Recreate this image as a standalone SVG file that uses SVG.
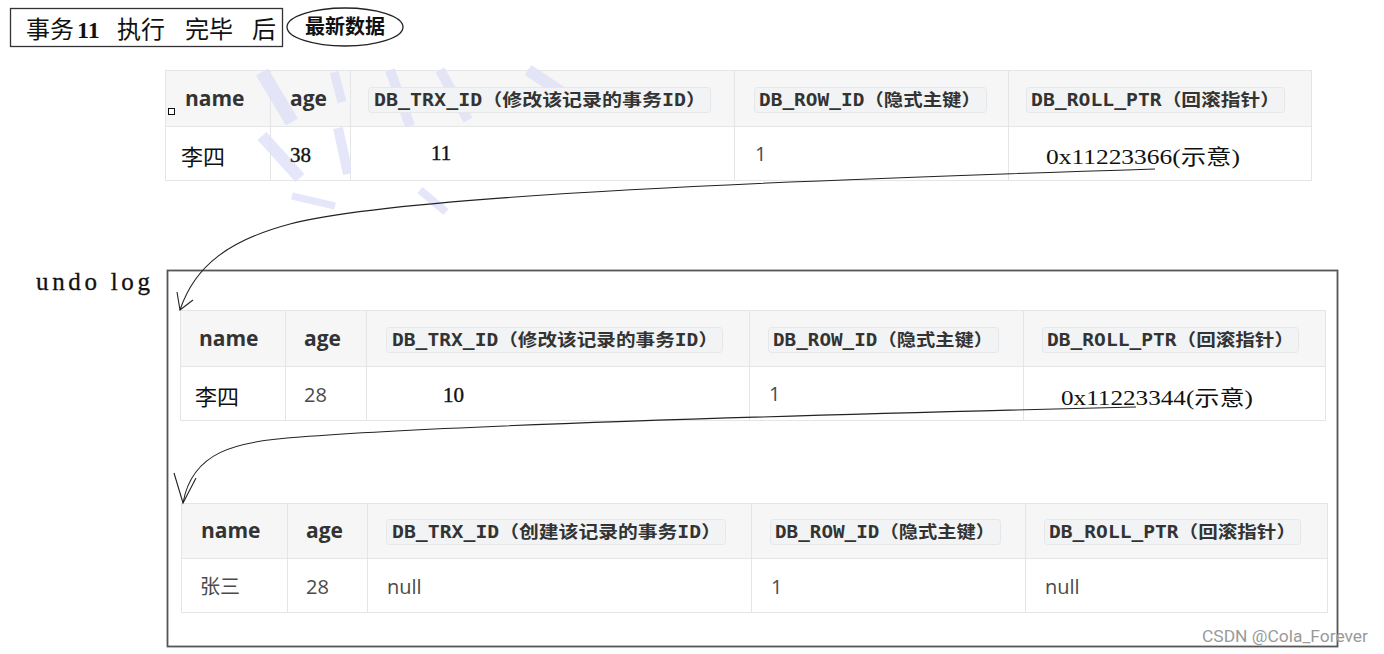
<svg xmlns="http://www.w3.org/2000/svg" width="1384" height="654" viewBox="0 0 1384 654">
<style>
.serif{font-family:"Liberation Serif","Noto Sans CJK SC",serif;fill:#111}
.hdr{font-family:"Open Sans","Noto Sans",sans-serif;font-weight:700;font-size:21px;fill:#333}
.code{font-family:"DejaVu Sans Mono","Noto Sans CJK SC",monospace;font-weight:600;font-size:17px;fill:#333}
.pill{fill:#f2f3f4;stroke:#e6e7e9;stroke-width:1}
.cell{font-family:"Open Sans","Noto Sans","Noto Sans CJK SC",sans-serif;font-size:20px;fill:#4a4a4a}
.tbl{fill:#fff;stroke:#e4e5e7;stroke-width:1}
.head{fill:#f6f6f7}
.grid{stroke:#e4e5e7;stroke-width:1;fill:none}
.wm{stroke:#e1e2f8;fill:none;stroke-linecap:butt}
.conn{fill:none;stroke:#222;stroke-width:1.1}
</style>
<rect width="1384" height="654" fill="#fff"/>

<g id="title">
<rect x="10.5" y="8.5" width="272" height="38" fill="#fff" stroke="#333" stroke-width="1.3"/>
<text class="serif" font-size="24" y="38"><tspan x="26">事务</tspan><tspan x="77" font-weight="bold">11</tspan><tspan x="117">执行</tspan><tspan x="185">完毕</tspan><tspan x="252">后</tspan></text>
</g>

<g id="latest">
<ellipse cx="345" cy="27" rx="58" ry="19" fill="#fff" stroke="#222" stroke-width="1.3"/>
<text class="serif" font-size="20" font-weight="bold" x="345" y="34" text-anchor="middle">最新数据</text>
</g>

<g id="undo-label">
<text class="serif" font-size="25" x="36" y="290" textLength="114" lengthAdjust="spacing" stroke="#111" stroke-width="0.3">undo log</text>
</g>

<g id="undo-box">
<rect x="167.5" y="270.5" width="1170" height="376" fill="none" stroke="#555" stroke-width="1.8"/>
</g>

<g id="table-current">
<g transform="translate(165,70)">
<rect class="tbl" x="0.5" y="0.5" width="1146" height="110"/>
<rect class="head" x="1" y="1" width="1145" height="55"/>
<path class="grid" d="M0.5,56.5H1146.5M105.5,0V110M185.5,0V110M569.5,0V110M843.5,0V110"/>
</g>
<g id="watermark" opacity="0.85">
<path class="wm" stroke-width="14" d="M262,72L292,122"/>
<path class="wm" stroke-width="12" d="M262,136L300,178"/>
<path class="wm" stroke-width="9" d="M334,72L342,102"/>
<path class="wm" stroke-width="10" d="M338,128L348,174"/>
<path class="wm" stroke-width="10" d="M390,70L410,126"/>
<path class="wm" stroke-width="10" d="M440,70L468,120"/>
<path class="wm" stroke-width="12" d="M528,70L585,108"/>
<path class="wm" stroke-width="7" d="M292,196L335,206"/>
<path class="wm" stroke-width="8" d="M420,190L446,212"/>
<rect x="351" y="127" width="382" height="52" fill="#fff"/>
</g>
<g transform="translate(165,70)">
<text class="hdr" x="20" y="36">name</text>
<text class="hdr" x="125" y="36">age</text>
<rect class="pill" x="203.5" y="17.5" width="342" height="25" rx="3"/>
<text class="code" x="209" y="36" textLength="332" lengthAdjust="spacingAndGlyphs">DB_TRX_ID（修改该记录的事务ID）</text>
<rect class="pill" x="589.5" y="17.5" width="232" height="25" rx="3"/>
<text class="code" x="594" y="36" textLength="222" lengthAdjust="spacingAndGlyphs">DB_ROW_ID（隐式主键）</text>
<rect class="pill" x="861.5" y="17.5" width="258" height="25" rx="3"/>
<text class="code" x="866" y="36" textLength="249" lengthAdjust="spacingAndGlyphs">DB_ROLL_PTR（回滚指针）</text>
<text class="serif" x="16" y="95" font-size="22" fill="#333">李四</text>
<text class="serif" x="125" y="92" font-size="21" stroke="#222" stroke-width="0.4">38</text>
<text class="serif" x="266" y="90" font-size="21" stroke="#111" stroke-width="0.4">11</text>
<text class="cell" x="590" y="91">1</text>
<text class="serif" x="881" y="94" font-size="21" textLength="194" lengthAdjust="spacingAndGlyphs">0x11223366(示意)</text>
</g>
<rect x="168.5" y="108.5" width="6" height="6" fill="#fff" stroke="#111" stroke-width="1"/>
</g>

<g id="table-undo-1" transform="translate(180,310)">
<rect class="tbl" x="0.5" y="0.5" width="1145" height="110"/>
<rect class="head" x="1" y="1" width="1144" height="55"/>
<path class="grid" d="M0.5,56.5H1145.5M105.5,0V110M186.5,0V110M569.5,0V110M843.5,0V110"/>
<text class="hdr" x="19" y="36">name</text>
<text class="hdr" x="124" y="36">age</text>
<rect class="pill" x="206.5" y="17.5" width="336" height="25" rx="3"/>
<text class="code" x="212" y="36" textLength="326" lengthAdjust="spacingAndGlyphs">DB_TRX_ID（修改该记录的事务ID）</text>
<rect class="pill" x="588.5" y="17.5" width="230" height="25" rx="3"/>
<text class="code" x="593" y="36" textLength="220" lengthAdjust="spacingAndGlyphs">DB_ROW_ID（隐式主键）</text>
<rect class="pill" x="862.5" y="17.5" width="256" height="25" rx="3"/>
<text class="code" x="867" y="36" textLength="247" lengthAdjust="spacingAndGlyphs">DB_ROLL_PTR（回滚指针）</text>
<text class="serif" x="15" y="95" font-size="22" fill="#333">李四</text>
<text class="cell" x="124" y="92">28</text>
<text class="serif" x="263" y="92" font-size="21" stroke="#111" stroke-width="0.4">10</text>
<text class="cell" x="589" y="91">1</text>
<text class="serif" x="881" y="95" font-size="21" textLength="192" lengthAdjust="spacingAndGlyphs">0x11223344(示意)</text>
</g>

<g id="table-undo-2" transform="translate(181,503)">
<rect class="tbl" x="0.5" y="0.5" width="1146" height="109"/>
<rect class="head" x="1" y="1" width="1145" height="54"/>
<path class="grid" d="M0.5,55.5H1146.5M106.5,0V109M186.5,0V109M570.5,0V109M844.5,0V109"/>
<text class="hdr" x="20" y="35">name</text>
<text class="hdr" x="125" y="35">age</text>
<rect class="pill" x="205.5" y="16.5" width="339" height="25" rx="3"/>
<text class="code" x="211" y="35" textLength="329" lengthAdjust="spacingAndGlyphs">DB_TRX_ID（创建该记录的事务ID）</text>
<rect class="pill" x="589.5" y="16.5" width="230" height="25" rx="3"/>
<text class="code" x="594" y="35" textLength="220" lengthAdjust="spacingAndGlyphs">DB_ROW_ID（隐式主键）</text>
<rect class="pill" x="863.5" y="16.5" width="256" height="25" rx="3"/>
<text class="code" x="868" y="35" textLength="247" lengthAdjust="spacingAndGlyphs">DB_ROLL_PTR（回滚指针）</text>
<text class="cell" x="19" y="91">张三</text>
<text class="cell" x="125" y="91">28</text>
<text class="cell" x="206" y="91">null</text>
<text class="cell" x="590" y="91">1</text>
<text class="cell" x="864" y="91">null</text>
</g>

<g id="connectors">
<path class="conn" d="M1155,169 C800,180 400,195 290,224 C230,240 195,265 180,310"/>
<path class="conn" d="M177,292 L180,310 L193,300"/>
<path class="conn" d="M1136,407 C800,415 450,425 300,437 C235,441 192,452 183,503"/>
<path class="conn" d="M174,473 L183,503 L196,478"/>
</g>

<text x="1368" y="642" text-anchor="end" font-family="Roboto,'Liberation Sans',sans-serif" font-size="16" fill="#9a9a9a" textLength="166" lengthAdjust="spacingAndGlyphs">CSDN @Cola_Forever</text>
</svg>
